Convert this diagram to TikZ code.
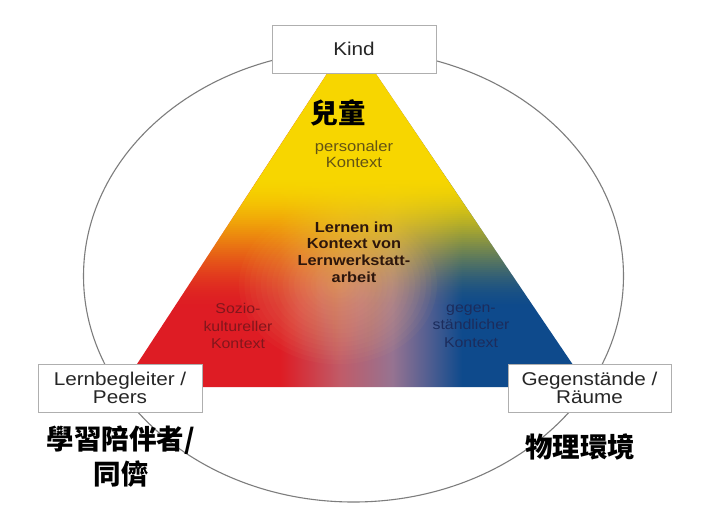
\documentclass[tikz,border=0pt]{standalone}
\usepackage{fontspec}
\setmainfont{Liberation Sans}[FakeStretch=1.12]
\newfontfamily\cjk{Noto Sans CJK TC}
\definecolor{myyellow}{RGB}{247,214,0}
\definecolor{myred}{RGB}{222,28,36}
\definecolor{mypink}{RGB}{192,92,105}
\definecolor{mymauve}{RGB}{150,115,145}
\definecolor{midblue}{RGB}{88,96,145}
\definecolor{myblue}{RGB}{14,74,140}
\definecolor{peach}{RGB}{245,185,120}
\definecolor{ringgray}{RGB}{125,125,125}
\definecolor{boxgray}{RGB}{175,175,175}
\definecolor{perscol}{RGB}{100,84,20}
\definecolor{soziocol}{RGB}{130,22,28}
\definecolor{gegencol}{RGB}{28,44,92}
\definecolor{centercol}{RGB}{45,22,12}
\pgfdeclarehorizontalshading{rbshade}{100bp}{color(0bp)=(myred); color(42bp)=(myred); color(48.5bp)=(mypink); color(54bp)=(mymauve); color(57.5bp)=(midblue); color(61.5bp)=(myblue); color(100bp)=(myblue)}
\begin{document}
\begin{tikzpicture}[x=1pt,y=-1pt,
  ring/.style={draw=ringgray, line width=1.1pt},
  labelbox/.style={draw=boxgray, line width=0.9pt, fill=white, minimum width=164pt, minimum height=48pt, inner sep=0pt, align=center, font=\fontsize{18.5}{17.5}\selectfont, text=black!85},
  inlabel/.style={inner sep=0pt, align=center, font=\fontsize{14.2}{17.5}\selectfont},
  cjklabel/.style={inner sep=0pt, align=center, font=\cjk\bfseries\fontsize{27.5}{35}\selectfont, text=black}]
\useasboundingbox (0,0) rectangle (712,520);
\fill[white] (0,0) rectangle (712,520);
% outer ellipse
\draw[ring] (353.5,276) ellipse [x radius=270, y radius=226];
% triangle
\coordinate (A) at (351,37);
\coordinate (B) at (122,387);
\coordinate (C) at (588,387);
\shade[shading=rbshade] (A) -- (B) -- (C) -- cycle;
\begin{scope}
  \clip (A) -- (B) -- (C) -- cycle;
  \foreach \k in {1,...,18} {
    \fill[peach, fill opacity=0.045] (338,285) ellipse [x radius={5.5*\k}, y radius={4.4*\k}];
  }
  \foreach \yy in {36,38,...,388} {
    \pgfmathsetmacro\tt{min(1,max(0,(\yy-175)/135))}
    \pgfmathsetmacro\op{1-\tt*\tt*(3-2*\tt)}
    \fill[myyellow, fill opacity=\op] (100,\yy) rectangle (620,\yy+2);
  }
\end{scope}
% boxes
\node[labelbox] (kind) at (354,49) {Kind};
\node[labelbox] (lern) at (120,388) {Lernbegleiter /\\Peers};
\node[labelbox, minimum width=163pt] (geg) at (589.5,388) {Gegenstände /\\Räume};
% inner texts
\node[cjklabel] (kid) at (338,113) {兒童};
\node[inlabel, text=perscol, font=\fontsize{14.8}{16}\selectfont] (pers) at (354,154) {personaler\\Kontext};
\node[inlabel, text=centercol, font=\bfseries\fontsize{14.6}{16.6}\selectfont] (center) at (354,252) {Lernen im\\Kontext von\\Lernwerkstatt-\\arbeit};
\node[inlabel, text=soziocol] (sozio) at (238,326) {Sozio-\\kultureller\\Kontext};
\node[inlabel, text=gegencol] (gegen) at (471,326) {gegen-\\ständlicher\\Kontext};
% chinese labels
\node[cjklabel] (peerzh) at (121,457) {學習陪伴者/\\同儕};
\node[cjklabel] (raumzh) at (580,447) {物理環境};
\end{tikzpicture}
\end{document}
